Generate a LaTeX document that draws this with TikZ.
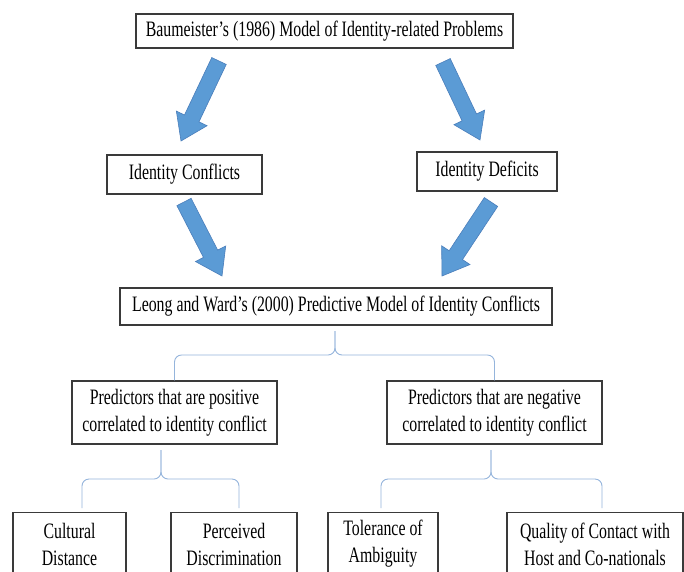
\documentclass[tikz,border=0pt]{standalone}
\usepackage{fontspec}
\setmainfont{Liberation Serif}[FakeStretch=0.72]
\usetikzlibrary{calc}
\definecolor{arrfill}{HTML}{5B9BD5}
\definecolor{arrline}{HTML}{4A7EBB}
\definecolor{bracec}{HTML}{95B5DC}
\definecolor{boxline}{HTML}{3A3A3A}
\tikzset{
  box/.style={draw=boxline, line width=1.2pt, fill=white, inner sep=0pt, align=center, font=\fontsize{22}{27}\selectfont},
  boxtext/.style={inner sep=0pt, align=center, font=\fontsize{22}{27}\selectfont},
  blockarr/.style={fill=arrfill, draw=arrline, line width=0.6pt, line join=miter},
  bracel/.style={draw=bracec, line width=0.9pt, rounded corners=7pt},
}
\newcommand\bigarrow[2]{%
  \coordinate (nk) at ($(#2)!25pt!(#1)$);
  \path[blockarr] ($(#1)!8pt!90:(#2)$) -- ($(nk)!8pt!90:(#2)$) -- ($(nk)!17pt!90:(#2)$)
     -- (#2) -- ($(nk)!17pt!-90:(#2)$) -- ($(nk)!8pt!-90:(#2)$) -- ($(#1)!8pt!-90:(#2)$) -- cycle;
}
\begin{document}
\begin{tikzpicture}[x=1pt,y=-1pt]
\useasboundingbox[fill=white] (0,0) rectangle (684,571);
% main boxes
\node[box, minimum width=377pt, minimum height=34pt] (top) at (324.5,31) {Baumeister’s (1986) Model of Identity-related Problems};
\node[box, minimum width=155pt, minimum height=39pt] (conf) at (184.5,174.5) {Identity Conflicts};
\node[box, minimum width=140pt, minimum height=39pt] (def) at (487,171.5) {Identity Deficits};
\node[box, minimum width=432pt, minimum height=37pt] (leong) at (336,306.5) {Leong and Ward’s (2000) Predictive Model of Identity Conflicts};
\node[box, minimum width=205pt, minimum height=63pt] (predL) at (174.5,412.5) {Predictors that are positive\\correlated to identity conflict};
\node[box, minimum width=215pt, minimum height=63pt] (predR) at (494.5,412.5) {Predictors that are negative\\correlated to identity conflict};
% bottom boxes (cut off by the page edge)
\node[box, anchor=north, minimum width=113pt, minimum height=95pt] (cd) at (69.5,512) {};
\node[boxtext] (cdt) at ($(cd.north)+(0,32)$) {Cultural\\Distance};
\node[box, anchor=north, minimum width=126pt, minimum height=95pt] (pd) at (234,512) {};
\node[boxtext] (pdt) at ($(pd.north)+(0,32)$) {Perceived\\Discrimination};
\node[box, anchor=north, minimum width=110pt, minimum height=95pt] (ta) at (383,512) {};
\node[boxtext] (tat) at ($(ta.north)+(0,32)$) {Tolerance of\\Ambiguity};
\node[box, anchor=north, minimum width=176pt, minimum height=95pt] (qc) at (595,512) {};
\node[boxtext] (qct) at ($(qc.north)+(0,32)$) {Quality of Contact with\\Host and Co-nationals};
% block arrows
\coordinate (a1s) at (219,61);  \coordinate (a1e) at (181,141);
\coordinate (a2s) at (443,62);  \coordinate (a2e) at (480,140);
\coordinate (a3s) at (184,202); \coordinate (a3e) at (222,276);
\coordinate (a4s) at (491,202); \coordinate (a4e) at (442,276);
\bigarrow{a1s}{a1e}
\bigarrow{a2s}{a2e}
\bigarrow{a3s}{a3e}
\bigarrow{a4s}{a4e}
% braces
\coordinate (b1t) at (335,331); \coordinate (b1m) at (335,355);
\draw[bracel] (predL.north) |- (b1m) -- (b1t);
\draw[bracel] (predR.north) |- (b1m) -- (b1t);
\coordinate (b2t) at (161,450); \coordinate (b2m) at (161,479);
\coordinate (b2l) at (82,508);  \coordinate (b2r) at (239,508);
\draw[bracel] (b2l) |- (b2m) -- (b2t);
\draw[bracel] (b2r) |- (b2m) -- (b2t);
\coordinate (b3t) at (491,450); \coordinate (b3m) at (491,479);
\coordinate (b3l) at (381,508); \coordinate (b3r) at (602,508);
\draw[bracel] (b3l) |- (b3m) -- (b3t);
\draw[bracel] (b3r) |- (b3m) -- (b3t);
\end{tikzpicture}
\end{document}
